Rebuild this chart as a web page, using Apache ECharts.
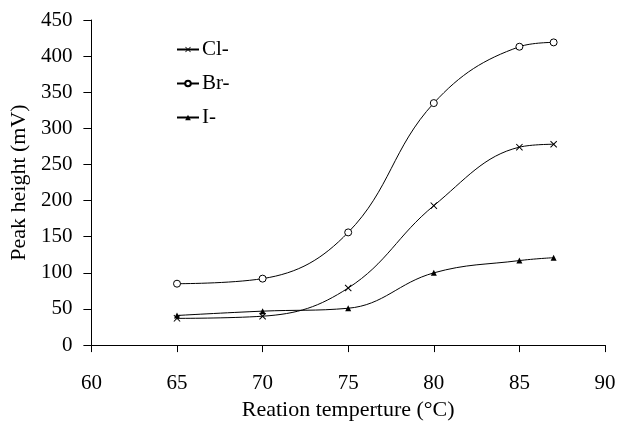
<!DOCTYPE html>
<html><head><meta charset="utf-8">
<script src="https://cdn.jsdelivr.net/npm/echarts@6/dist/echarts.min.js"></script>
<style>html,body{margin:0;padding:0;background:#fff}#c{width:619px;height:426px}</style>
</head><body><div id="c"></div>
<script>
var temps = [65, 70, 75, 80, 85, 87];
var clValues = [37, 40, 79, 193, 274, 278];
var brValues = [85, 92, 156, 335, 413, 419];
var iValues = [41, 47, 51, 100, 117, 121];
var xTicks = [60, 65, 70, 75, 80, 85, 90];
var yTicks = [0, 50, 100, 150, 200, 250, 300, 350, 400, 450];

function pairs(v){ return temps.map(function(t,i){ return [t, v[i]]; }); }
var font = '"Liberation Serif", "DejaVu Serif", serif';
var crossPath = 'path://M0,1L1,0L5,4L9,0L10,1L6,5L10,9L9,10L5,6L1,10L0,9L4,5Z';

var chart = echarts.init(document.getElementById('c'), null, {renderer:'canvas'});
chart.setOption({
  animation:false,
  backgroundColor:'#fff',
  grid:{left:90, right:14, top:20, bottom:76, containLabel:false},
  legend:{
    orient:'vertical', left:171, top:34, itemGap:13, itemWidth:22, itemHeight:7,
    textStyle:{fontFamily:font, fontSize:21, color:'#000', padding:[0,0,0,-2]},
    data:['Cl-','Br-','I-']
  },
  xAxis:{
    type:'value', min:xTicks[0], max:xTicks[xTicks.length-1], interval:5,
    name:'Reation temperture (°C)', nameLocation:'middle', nameGap:51,
    nameTextStyle:{fontFamily:font, fontSize:22, color:'#000'},
    axisLine:{lineStyle:{color:'#000', width:1}},
    axisTick:{inside:false, length:7, lineStyle:{color:'#000'}},
    axisLabel:{fontFamily:font, fontSize:21, color:'#000', margin:28},
    splitLine:{show:false}
  },
  yAxis:{
    type:'value', min:yTicks[0], max:yTicks[yTicks.length-1], interval:50,
    name:'Peak height (mV)', nameLocation:'middle', nameGap:54,
    nameTextStyle:{fontFamily:font, fontSize:22, color:'#000'},
    axisLine:{show:true, lineStyle:{color:'#000', width:1}},
    axisTick:{show:true, inside:false, length:8, lineStyle:{color:'#000'}},
    axisLabel:{fontFamily:font, fontSize:21, color:'#000', margin:19},
    splitLine:{show:false}
  },
  series:[
    {name:'Cl-', type:'line', data:pairs(clValues), smooth:0.4,
     symbol:crossPath, symbolSize:7,
     lineStyle:{color:'#000', width:1}, itemStyle:{color:'#000', borderWidth:0}},
    {name:'Br-', type:'line', data:pairs(brValues), smooth:0.4,
     symbol:'circle', symbolSize:7,
     lineStyle:{color:'#000', width:1}, itemStyle:{color:'#fff', borderColor:'#000', borderWidth:1}},
    {name:'I-', type:'line', data:pairs(iValues), smooth:0.4,
     symbol:'triangle', symbolSize:6,
     lineStyle:{color:'#000', width:1}, itemStyle:{color:'#000', borderWidth:0}}
  ]
});
</script></body></html>
